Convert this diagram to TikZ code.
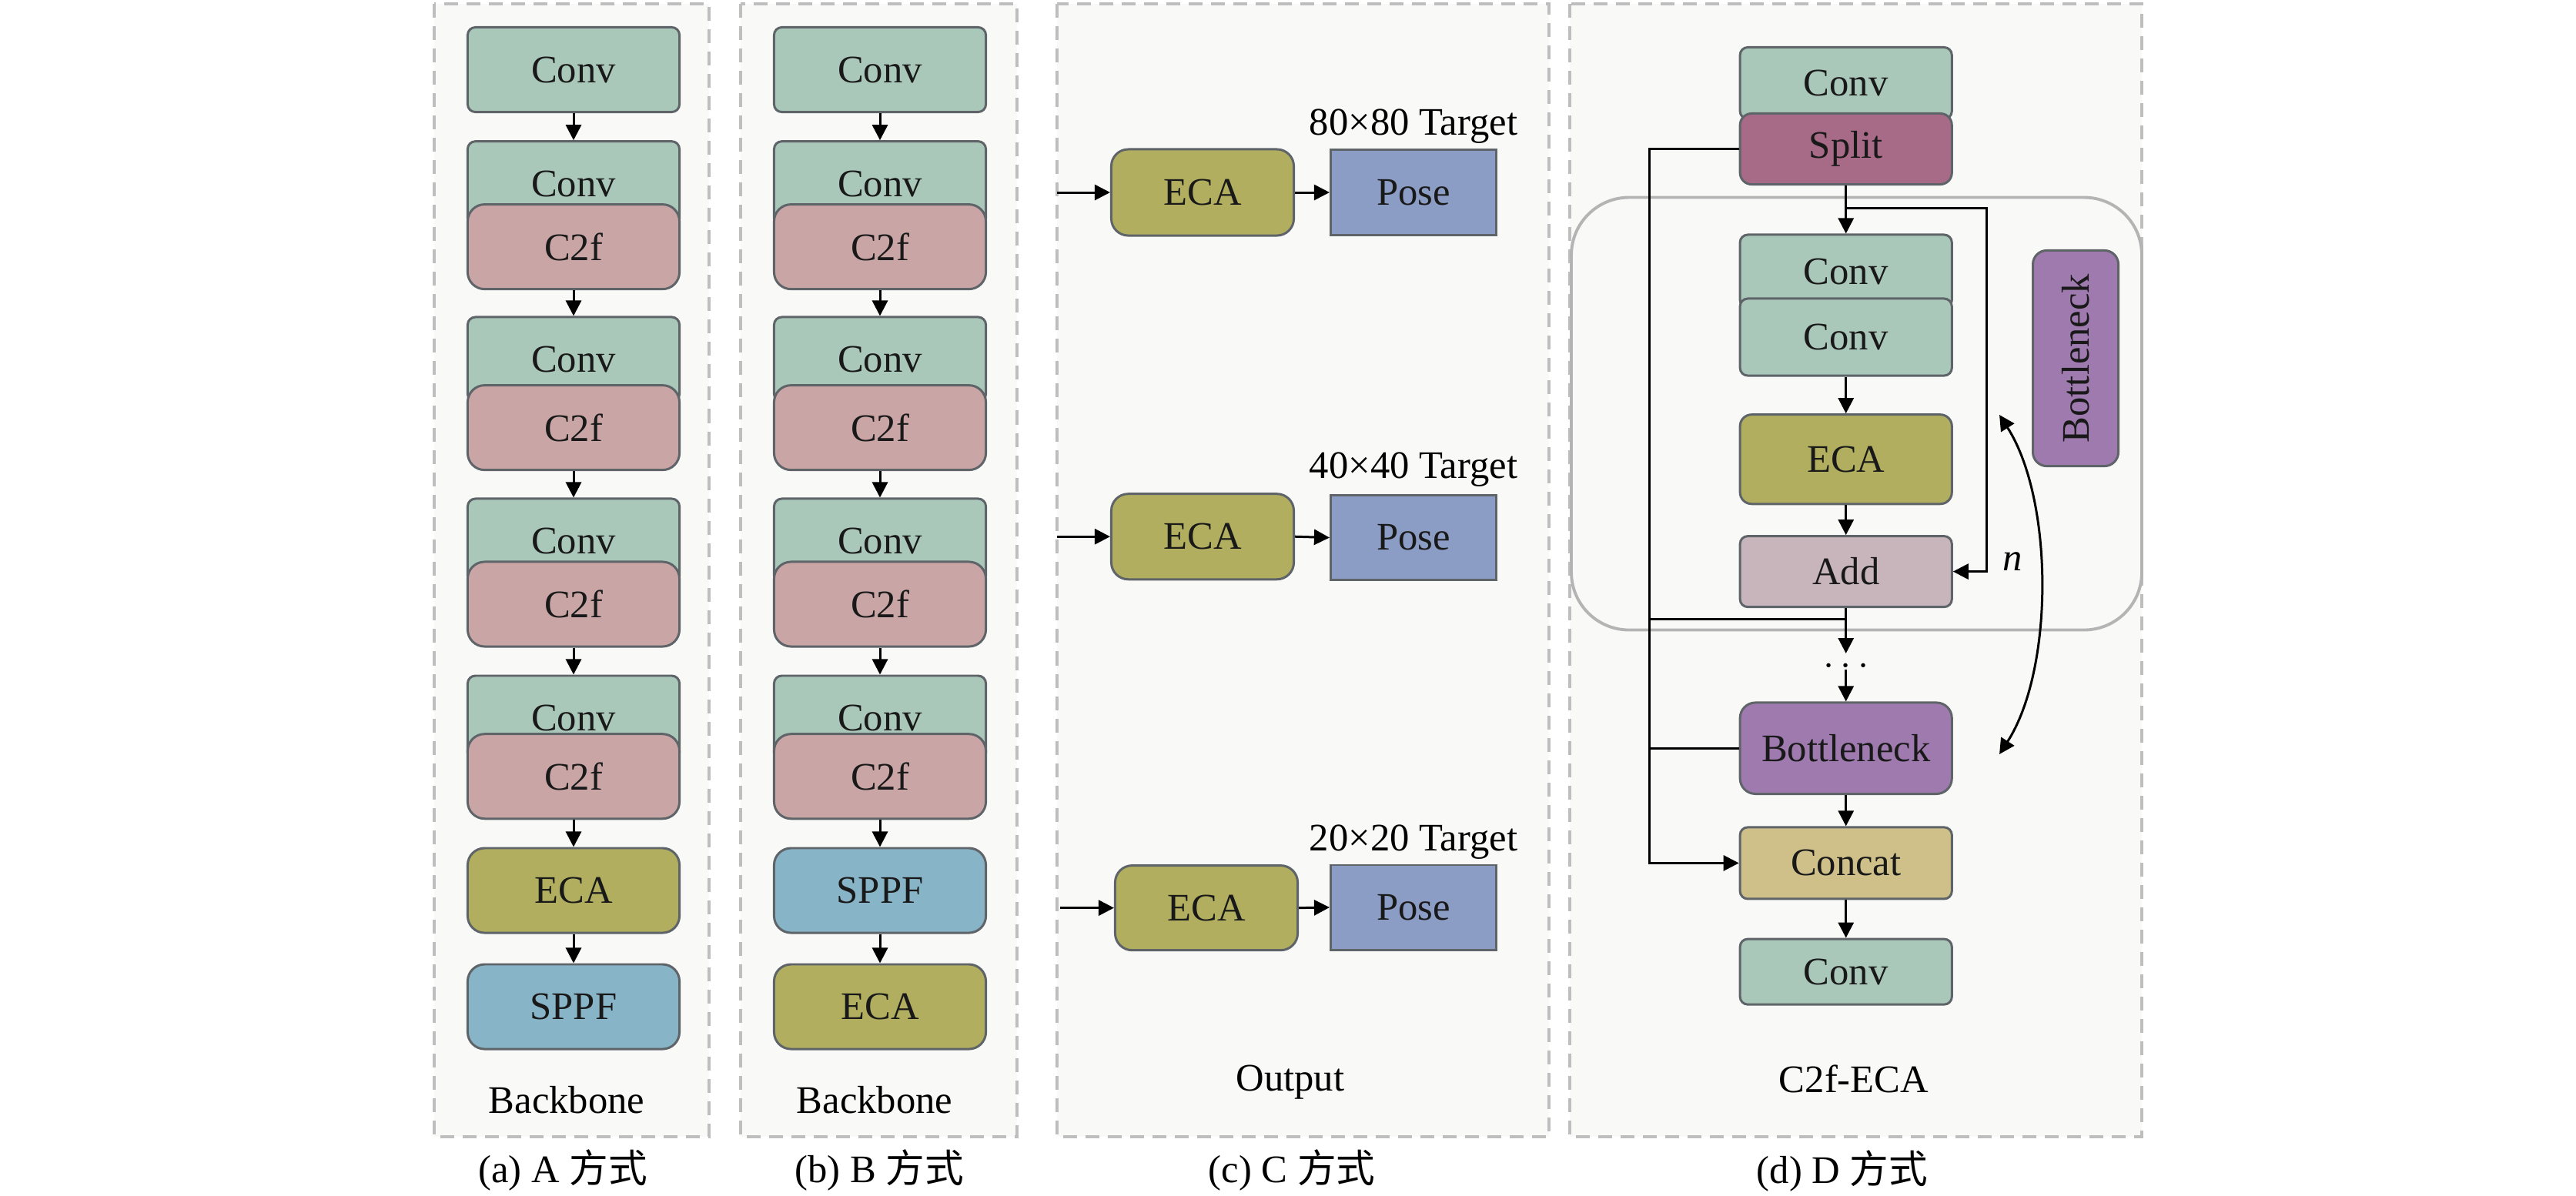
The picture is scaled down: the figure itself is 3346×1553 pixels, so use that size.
\documentclass[tikz,border=0pt]{standalone}
\usepackage{fontspec}
\setmainfont{Liberation Serif}
\newfontfamily\cjk{Noto Sans CJK SC}
\usetikzlibrary{arrows.meta}
\newcommand{\myfs}{\fontsize{14.4}{17}\selectfont}
\definecolor{convc}{HTML}{A9C8BA}
\definecolor{c2fc}{HTML}{C9A6A5}
\definecolor{ecac}{HTML}{B1AF5F}
\definecolor{sppfc}{HTML}{88B4C8}
\definecolor{posec}{HTML}{8C9DC5}
\definecolor{splitc}{HTML}{A76A87}
\definecolor{addc}{HTML}{C8B5BC}
\definecolor{bottc}{HTML}{9F7AAE}
\definecolor{concatc}{HTML}{CFC089}
\definecolor{boxline}{HTML}{5E6468}
\definecolor{dashc}{HTML}{BEBEBE}
\definecolor{bgc}{HTML}{F9F9F8}
\definecolor{grpc}{HTML}{B4B4B4}
\tikzset{
  blk/.style={draw=boxline, line width=0.85pt, minimum width=2.75cm, minimum height=1.1cm, inner sep=0pt, font=\myfs, text=black!90},
  convb/.style={blk, fill=convc, rounded corners=0.1cm},
  c2fb/.style={blk, fill=c2fc, rounded corners=0.22cm},
  ecab/.style={blk, fill=ecac, rounded corners=0.22cm},
  sppfb/.style={blk, fill=sppfc, rounded corners=0.22cm},
  poseb/.style={blk, fill=posec, minimum width=2.15cm},
  splitb/.style={blk, fill=splitc, rounded corners=0.15cm},
  addb/.style={blk, fill=addc, rounded corners=0.1cm},
  bottb/.style={blk, fill=bottc, rounded corners=0.2cm},
  concatb/.style={blk, fill=concatc, rounded corners=0.1cm},
  panel/.style={draw=dashc, fill=bgc, line width=1.1pt, dash pattern=on 0.18cm off 0.11cm},
  arr/.style={-{Triangle[length=0.2cm,width=0.2cm]}, line width=0.85pt},
  ln/.style={line width=0.85pt},
  lab/.style={font=\myfs, anchor=base, inner sep=0pt}
}
\begin{document}
\begin{tikzpicture}[x=0.01cm,y=-0.01cm]
\useasboundingbox (0,0) rectangle (3346,1553);
% panels
\draw[panel] (564,5) rectangle (921,1477);
\draw[panel] (962,5) rectangle (1321,1477);
\draw[panel] (1373,5) rectangle (2012,1477);
\draw[panel] (2039,5) rectangle (2782,1477);

% ---------- panel A ----------
\node[convb] (a1) at (745,90.5) {Conv};
\node[convb] (a2c) at (745,238.7) {Conv};
\node[c2fb] (a2f) at (745,320.6) {C2f};
\node[convb] (a3c) at (745,467) {Conv};
\node[c2fb] (a3f) at (745,555.6) {C2f};
\node[convb] (a4c) at (745,703) {Conv};
\node[c2fb] (a4f) at (745,785) {C2f};
\node[convb] (a5c) at (745,933) {Conv};
\node[c2fb] (a5f) at (745,1008.7) {C2f};
\node[ecab] (a6) at (745,1157) {ECA};
\node[sppfb] (a7) at (745,1308) {SPPF};
\draw[arr] (a1.south) -- (a2c.north);
\draw[arr] (a2f.south) -- (a3c.north);
\draw[arr] (a3f.south) -- (a4c.north);
\draw[arr] (a4f.south) -- (a5c.north);
\draw[arr] (a5f.south) -- (a6.north);
\draw[arr] (a6.south) -- (a7.north);
\node[lab] (alab) at (736,1446) {Backbone};
\node[lab] (acap) at (731,1536) {(a) A {\cjk 方式}};

% ---------- panel B ----------
\node[convb] (b1) at (1143,90.5) {Conv};
\node[convb] (b2c) at (1143,238.7) {Conv};
\node[c2fb] (b2f) at (1143,320.6) {C2f};
\node[convb] (b3c) at (1143,467) {Conv};
\node[c2fb] (b3f) at (1143,555.6) {C2f};
\node[convb] (b4c) at (1143,703) {Conv};
\node[c2fb] (b4f) at (1143,785) {C2f};
\node[convb] (b5c) at (1143,933) {Conv};
\node[c2fb] (b5f) at (1143,1008.7) {C2f};
\node[sppfb] (b6) at (1143,1157) {SPPF};
\node[ecab] (b7) at (1143,1308) {ECA};
\draw[arr] (b1.south) -- (b2c.north);
\draw[arr] (b2f.south) -- (b3c.north);
\draw[arr] (b3f.south) -- (b4c.north);
\draw[arr] (b4f.south) -- (b5c.north);
\draw[arr] (b5f.south) -- (b6.north);
\draw[arr] (b6.south) -- (b7.north);
\node[lab] (blab) at (1136,1446) {Backbone};
\node[lab] (bcap) at (1142,1536) {(b) B {\cjk 方式}};

% ---------- panel C ----------
\node[ecab, minimum width=2.37cm, minimum height=1.12cm] (ce1) at (1562,250) {ECA};
\node[poseb] (cp1) at (1836,250) {Pose};
\node[ecab, minimum width=2.37cm, minimum height=1.11cm] (ce2) at (1562,697.2) {ECA};
\node[poseb] (cp2) at (1836,698.5) {Pose};
\node[ecab, minimum width=2.37cm, minimum height=1.1cm] (ce3) at (1567,1179.6) {ECA};
\node[poseb] (cp3) at (1836,1179) {Pose};
\coordinate (ci1) at (1373,250);
\coordinate (ci2) at (1373,697.2);
\coordinate (ci3) at (1377,1179.6);
\draw[arr] (ci1) -- (ce1.west);
\draw[arr] (ci2) -- (ce2.west);
\draw[arr] (ci3) -- (ce3.west);
\draw[arr] (ce1.east) -- (cp1.west);
\draw[arr] (ce2.east) -- (cp2.west);
\draw[arr] (ce3.east) -- (cp3.west);
\node[lab] (ct1) at (1836,175) {80×80 Target};
\node[lab] (ct2) at (1836,621) {40×40 Target};
\node[lab] (ct3) at (1836,1105) {20×20 Target};
\node[lab] (clab) at (1676,1417) {Output};
\node[lab] (ccap) at (1678,1536) {(c) C {\cjk 方式}};

% ---------- panel D ----------
\draw[draw=grpc, line width=1.1pt, rounded corners=0.75cm] (2041,256.5) rectangle (2782,818.5);
\node[convb, minimum height=0.93cm] (d1) at (2397.7,108) {Conv};
\node[splitb, minimum height=0.92cm] (dsplit) at (2397.7,193.5) {Split};
\node[convb, minimum height=0.95cm] (dc1) at (2397.7,352.5) {Conv};
\node[convb, minimum height=1.0cm] (dc2) at (2397.7,438) {Conv};
\node[ecab, rounded corners=0.15cm, minimum height=1.16cm] (deca) at (2397.7,596.7) {ECA};
\node[addb, minimum height=0.92cm] (dadd) at (2397.7,742.6) {Add};
\node[bottb, minimum height=1.185cm] (dbott) at (2397.7,972.2) {Bottleneck};
\node[concatb, minimum height=0.93cm] (dconcat) at (2397.7,1121.4) {Concat};
\node[convb, minimum height=0.85cm] (dlast) at (2397.7,1262.6) {Conv};
\node[bottb, minimum width=2.8cm, minimum height=1.11cm, rounded corners=0.18cm, rotate=90] (dside) at (2696,465.5) {Bottleneck};
% connectors
\coordinate (bus) at (2142,193.5);
\coordinate (jn) at (2397.7,804);
\coordinate (sk) at (2397.7,270.4);
\coordinate (dtop) at (2397.7,849);
\coordinate (dbot) at (2397.7,870);
\draw[arr] (dsplit.south) -- (dc1.north);
\draw[arr] (sk) -| ([xshift=0.44cm]dadd.east) -- (dadd.east);
\draw[arr] (dc2.south) -- (deca.north);
\draw[arr] (deca.south) -- (dadd.north);
\draw[arr] (dadd.south) -- (dtop);
\draw[arr] (dbot) -- (dbott.north);
\draw[arr] (dsplit.west) -- (bus) -- (bus |- dconcat.west) -- (dconcat.west);
\draw[ln] (bus |- jn) -- (jn);
\draw[ln] (bus |- dbott.west) -- (dbott.west);
\draw[arr] (dbott.south) -- (dconcat.north);
\draw[arr] (dconcat.south) -- (dlast.north);
\node[font=\myfs, inner sep=0pt] (dots) at (2397.7,866) {$\cdots$};
\coordinate (cu1) at (2597,539);
\coordinate (cu2) at (2597,980);
\draw[{Triangle[length=0.2cm,width=0.2cm]}-{Triangle[length=0.2cm,width=0.2cm]}, line width=0.85pt] (cu1) .. controls (2668,650) and (2668,870) .. (cu2);
\node[font=\myfs\itshape, inner sep=0pt] (nlab) at (2614,730) {n};
\node[lab] (dlab) at (2408,1419.5) {C2f-ECA};
\node[lab] (dcap) at (2393,1537) {(d) D {\cjk 方式}};
\end{tikzpicture}
\end{document}
